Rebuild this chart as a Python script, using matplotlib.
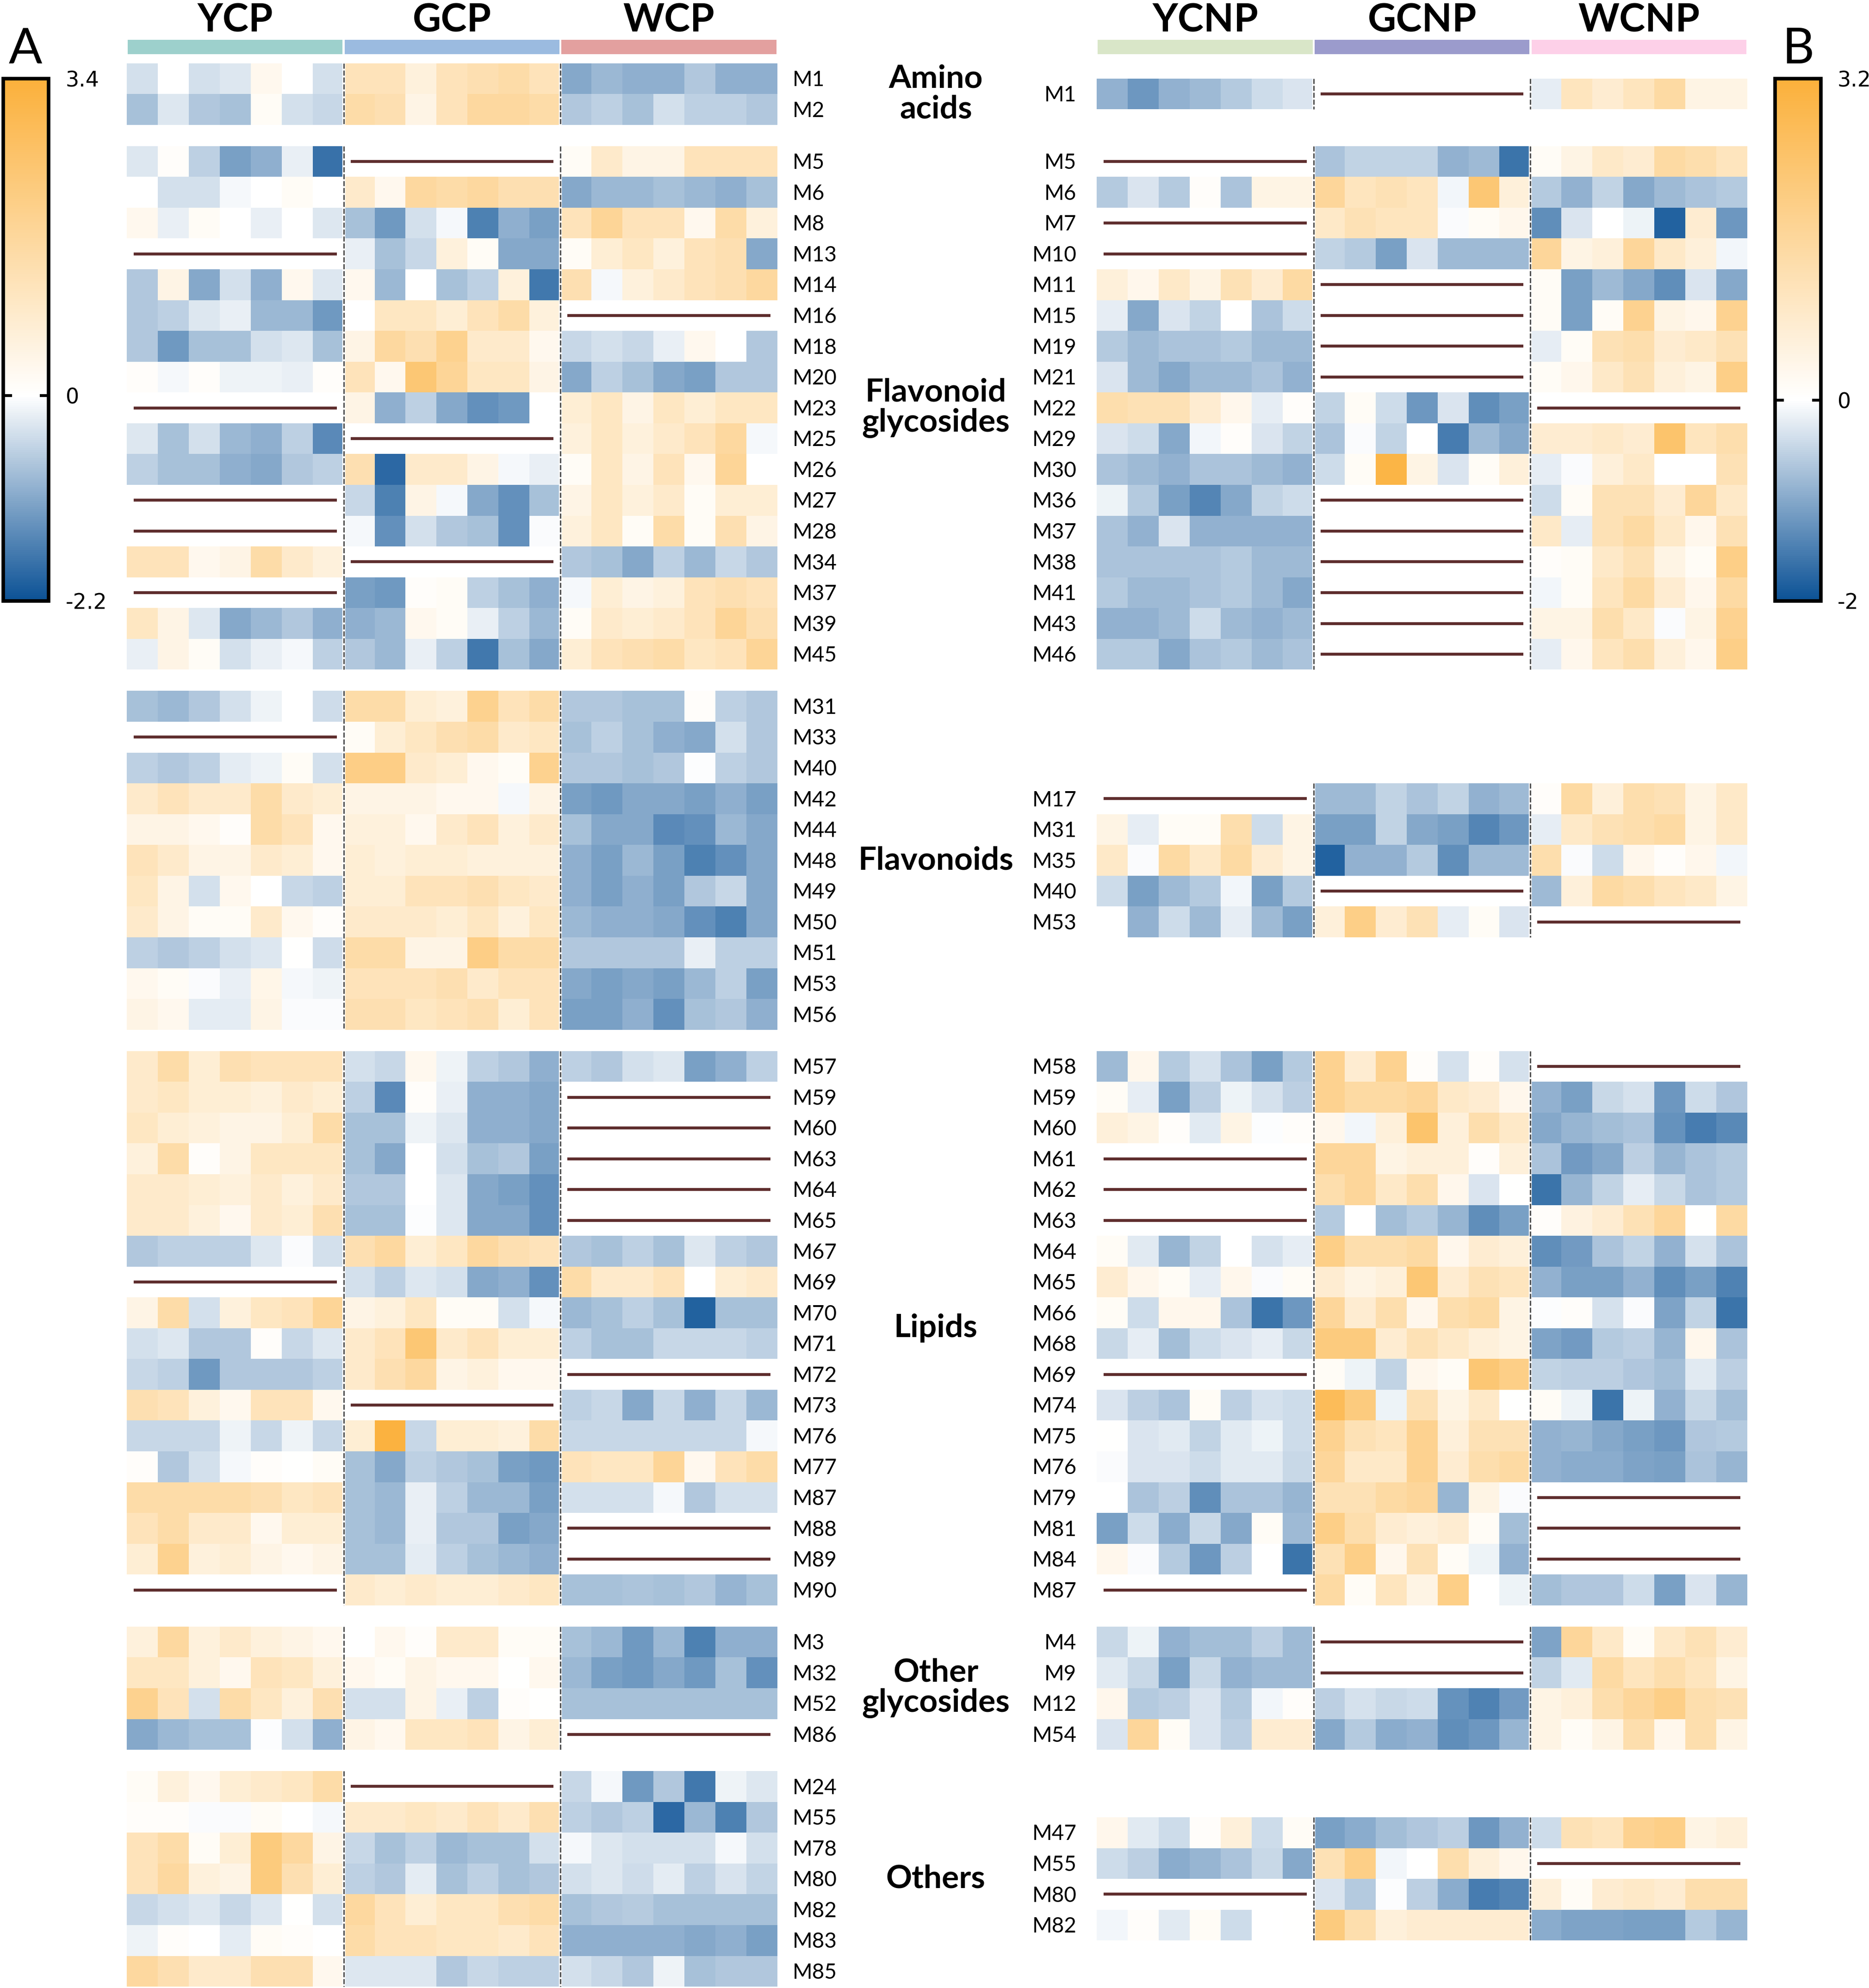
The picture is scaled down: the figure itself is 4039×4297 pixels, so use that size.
import numpy as np
import matplotlib
matplotlib.use("Agg")
import matplotlib.pyplot as plt
from matplotlib.colors import LinearSegmentedColormap, Normalize
from matplotlib.cm import ScalarMappable
from matplotlib.patches import Rectangle

plt.rcParams['font.family'] = ['Lato', 'DejaVu Sans']

# ---------------------------------------------------------------- data
groups_A = ["YCP", "GCP", "WCP"]
groups_B = ["YCNP", "GCNP", "WCNP"]
group_colors_A = ["#9dd0cc", "#9bbbe0", "#e3a09f"]
group_colors_B = ["#d9e6c8", "#9b9bcc", "#fdd0e8"]
categories = ["Amino\nacids", "Flavonoid\nglycosides", "Flavonoids", "Lipids",
              "Other\nglycosides", "Others"]
range_A = (-2.2, 3.4)
range_B = (-2.0, 3.2)

# ---- Panel A
A_amino_labels = ["M1", "M2"]
A_amino_YCP = [[-0.4, 0.0, -0.4, -0.3, 0.3, 0.0, -0.4],
               [-0.8, -0.3, -0.7, -0.8, 0.15, -0.4, -0.5]]
A_amino_GCP = [[1.2, 1.2, 0.6, 1.2, 1.35, 1.5, 1.2],
               [1.5, 1.35, 0.45, 1.2, 1.65, 1.65, 1.5]]
A_amino_WCP = [[-1.1, -0.9, -1.0, -1.0, -0.7, -1.0, -1.0],
               [-0.7, -0.6, -0.8, -0.4, -0.6, -0.6, -0.7]]

A_fg_labels = ["M5", "M6", "M8", "M13", "M14", "M16", "M18", "M20", "M23", "M25",
               "M26", "M27", "M28", "M34", "M37", "M39", "M45"]
A_fg_YCP = [
    [-0.3, 0.08, -0.6, -1.2, -1.0, -0.2, -1.8],
    [0.0, -0.4, -0.4, -0.1, 0.0, 0.15, 0.0],
    [0.3, -0.2, 0.15, 0.0, -0.2, 0.0, -0.3],
    None,
    [-0.7, 0.45, -1.1, -0.4, -1.0, 0.3, -0.3],
    [-0.7, -0.6, -0.3, -0.2, -0.9, -0.9, -1.3],
    [-0.7, -1.3, -0.8, -0.8, -0.4, -0.3, -0.8],
    [0.08, -0.1, 0.08, -0.15, -0.15, -0.2, 0.08],
    None,
    [-0.3, -0.8, -0.4, -0.9, -1.0, -0.6, -1.5],
    [-0.6, -0.8, -0.8, -1.0, -1.1, -0.7, -0.6],
    None,
    None,
    [1.2, 1.2, 0.3, 0.45, 1.5, 0.9, 0.6],
    None,
    [1.05, 0.45, -0.3, -1.1, -0.9, -0.7, -1.0],
    [-0.2, 0.45, 0.15, -0.4, -0.2, -0.1, -0.6],
]
A_fg_GCP = [
    None,
    [0.9, 0.3, 1.65, 1.5, 1.65, 1.35, 1.35],
    [-0.8, -1.3, -0.4, -0.1, -1.6, -1.0, -1.2],
    [-0.2, -0.8, -0.5, 0.6, 0.15, -1.1, -1.1],
    [0.3, -0.9, 0.0, -0.8, -0.6, 0.6, -1.7],
    [0.0, 1.05, 1.05, 0.75, 1.2, 1.5, 0.6],
    [0.45, 1.65, 1.35, 1.95, 0.9, 0.9, 0.3],
    [1.2, 0.3, 2.4, 1.8, 1.05, 1.05, 0.45],
    [0.45, -1.0, -0.6, -1.1, -1.4, -1.3, 0.0],
    None,
    [1.35, -1.9, 0.9, 0.9, 0.45, -0.1, -0.2],
    [-0.5, -1.6, 0.45, -0.1, -1.1, -1.4, -0.8],
    [-0.1, -1.4, -0.4, -0.7, -0.8, -1.4, -0.05],
    None,
    [-1.2, -1.3, 0.08, 0.15, -0.6, -0.8, -1.0],
    [-1.0, -0.9, 0.3, 0.15, -0.2, -0.6, -0.9],
    [-0.7, -0.9, -0.2, -0.6, -1.7, -0.8, -1.1],
]
A_fg_WCP = [
    [0.15, 0.9, 0.45, 0.45, 1.2, 1.2, 1.2],
    [-1.1, -0.9, -0.9, -0.8, -0.9, -1.0, -0.8],
    [1.2, 1.8, 1.2, 1.2, 0.3, 1.5, 0.6],
    [0.15, 0.75, 1.05, 0.6, 1.2, 1.35, -1.1],
    [1.35, -0.1, 0.6, 0.9, 1.2, 1.35, 1.65],
    None,
    [-0.5, -0.4, -0.5, -0.2, 0.3, 0.0, -0.7],
    [-1.1, -0.6, -0.8, -1.1, -1.2, -0.7, -0.7],
    [0.75, 1.05, 0.45, 1.05, 0.75, 1.05, 1.05],
    [0.6, 1.05, 0.6, 0.9, 1.2, 1.65, -0.1],
    [0.15, 1.05, 0.45, 1.2, 0.3, 1.8, 0.0],
    [0.45, 1.05, 0.6, 0.9, 0.15, 0.75, 0.75],
    [0.6, 1.05, 0.15, 1.5, 0.15, 1.35, 0.45],
    [-0.7, -0.8, -1.1, -0.6, -0.9, -0.5, -0.7],
    [-0.1, 0.75, 0.45, 0.6, 1.2, 1.35, 1.2],
    [0.15, 0.9, 0.75, 0.9, 1.2, 1.8, 1.35],
    [0.75, 1.2, 1.35, 1.5, 1.05, 1.2, 1.8],
]

A_fl_labels = ["M31", "M33", "M40", "M42", "M44", "M48", "M49", "M50", "M51", "M53", "M56"]
A_fl_YCP = [
    [-0.8, -0.9, -0.7, -0.4, -0.15, 0.0, -0.45],
    None,
    [-0.6, -0.7, -0.6, -0.25, -0.15, 0.15, -0.4],
    [0.9, 1.2, 0.9, 0.9, 1.5, 0.9, 0.75],
    [0.45, 0.45, 0.3, 0.08, 1.5, 1.2, 0.3],
    [1.2, 0.9, 0.45, 0.45, 0.9, 0.75, 0.3],
    [1.05, 0.45, -0.4, 0.3, 0.0, -0.5, -0.6],
    [0.9, 0.45, 0.15, 0.15, 0.9, 0.3, 0.08],
    [-0.6, -0.7, -0.6, -0.4, -0.3, 0.03, -0.45],
    [0.3, 0.15, -0.05, -0.2, 0.4, -0.08, -0.15],
    [0.45, 0.3, -0.25, -0.25, 0.45, -0.05, -0.05],
]
A_fl_GCP = [
    [1.5, 1.5, 0.75, 0.6, 1.95, 1.2, 1.5],
    [0.15, 0.75, 1.05, 1.35, 1.5, 0.9, 1.05],
    [2.1, 2.1, 0.9, 0.75, 0.3, 0.15, 1.95],
    [0.45, 0.45, 0.45, 0.3, 0.3, -0.08, 0.45],
    [0.6, 0.6, 0.3, 0.9, 1.2, 0.6, 0.9],
    [0.75, 0.6, 0.75, 0.75, 0.6, 0.6, 0.6],
    [0.75, 0.75, 1.2, 1.2, 1.35, 1.05, 0.9],
    [0.9, 0.9, 0.9, 0.75, 1.05, 0.6, 1.05],
    [1.5, 1.5, 0.45, 0.45, 2.1, 1.5, 1.5],
    [1.2, 1.2, 1.2, 1.35, 0.9, 1.2, 1.2],
    [1.35, 1.35, 1.05, 1.2, 1.35, 0.75, 1.2],
]
A_fl_WCP = [
    [-0.7, -0.7, -0.8, -0.8, 0.08, -0.6, -0.7],
    [-0.8, -0.6, -0.8, -1.0, -1.1, -0.4, -0.7],
    [-0.7, -0.7, -0.8, -0.7, -0.02, -0.6, -0.7],
    [-1.2, -1.3, -1.1, -1.1, -1.2, -1.0, -1.2],
    [-0.8, -1.1, -1.1, -1.5, -1.4, -0.9, -1.1],
    [-1.0, -1.2, -0.9, -1.2, -1.6, -1.4, -1.1],
    [-1.0, -1.2, -1.0, -1.2, -0.7, -0.5, -1.1],
    [-0.9, -1.0, -1.0, -1.1, -1.4, -1.6, -1.1],
    [-0.7, -0.7, -0.7, -0.7, -0.2, -0.6, -0.6],
    [-1.1, -1.2, -1.1, -1.2, -0.9, -0.6, -1.2],
    [-1.2, -1.2, -1.0, -1.4, -0.8, -0.7, -1.0],
]

A_li_labels = ["M57", "M59", "M60", "M63", "M64", "M65", "M67", "M69", "M70", "M71",
               "M72", "M73", "M76", "M77", "M87", "M88", "M89", "M90"]
A_li_YCP = [
    [0.9, 1.5, 0.75, 1.35, 1.2, 1.2, 1.2],
    [0.9, 1.05, 0.75, 0.75, 0.6, 0.9, 0.75],
    [1.05, 0.75, 0.6, 0.45, 0.45, 0.75, 1.5],
    [0.6, 1.5, 0.08, 0.45, 1.05, 1.05, 1.05],
    [0.9, 0.9, 0.75, 0.6, 0.9, 0.6, 0.9],
    [0.9, 0.9, 0.6, 0.3, 0.9, 0.75, 1.35],
    [-0.7, -0.6, -0.6, -0.6, -0.3, -0.05, -0.4],
    None,
    [0.45, 1.5, -0.4, 0.6, 1.05, 1.2, 1.8],
    [-0.4, -0.3, -0.7, -0.7, 0.08, -0.5, -0.3],
    [-0.5, -0.6, -1.3, -0.7, -0.7, -0.7, -0.6],
    [1.35, 1.2, 0.6, 0.3, 1.2, 1.2, 0.3],
    [-0.5, -0.5, -0.5, -0.15, -0.5, -0.15, -0.5],
    [0.08, -0.7, -0.4, -0.1, 0.08, 0.03, 0.15],
    [1.5, 1.5, 1.5, 1.5, 1.35, 1.05, 1.2],
    [1.2, 1.5, 0.9, 0.9, 0.3, 0.75, 0.75],
    [0.75, 1.95, 0.6, 0.75, 0.45, 0.3, 0.45],
    None,
]
A_li_GCP = [
    [-0.4, -0.5, 0.3, -0.15, -0.6, -0.7, -1.0],
    [-0.6, -1.5, 0.08, -0.2, -1.0, -1.0, -1.1],
    [-0.8, -0.8, -0.15, -0.3, -1.0, -1.0, -1.1],
    [-0.8, -1.1, 0.0, -0.4, -0.8, -0.7, -1.2],
    [-0.7, -0.7, 0.0, -0.3, -1.1, -1.2, -1.4],
    [-0.8, -0.8, -0.02, -0.3, -1.1, -1.1, -1.4],
    [1.35, 1.65, 0.75, 1.05, 1.65, 1.35, 1.2],
    [-0.4, -0.6, -0.3, -0.4, -1.1, -1.0, -1.4],
    [0.45, 0.6, 1.05, 0.15, 0.15, -0.4, -0.1],
    [0.9, 1.2, 2.4, 0.9, 1.2, 0.75, 0.75],
    [0.9, 1.35, 1.65, 0.45, 0.6, 0.3, 0.3],
    None,
    [0.75, 3.3, -0.5, 0.75, 0.75, 0.6, 1.5],
    [-0.8, -1.1, -0.6, -0.7, -0.8, -1.2, -1.3],
    [-0.8, -0.9, -0.2, -0.6, -0.9, -0.9, -1.2],
    [-0.8, -0.9, -0.2, -0.7, -0.7, -1.2, -1.1],
    [-0.8, -0.8, -0.25, -0.6, -0.8, -0.9, -1.0],
    [0.9, 0.75, 0.9, 0.75, 0.75, 0.9, 1.05],
]
A_li_WCP = [
    [-0.6, -0.7, -0.4, -0.3, -1.2, -1.0, -0.6],
    None,
    None,
    None,
    None,
    None,
    [-0.7, -0.8, -0.6, -0.8, -0.3, -0.6, -0.7],
    [1.5, 0.9, 0.9, 1.2, 0.0, 0.75, 0.9],
    [-0.9, -0.8, -0.6, -0.8, -2.0, -0.8, -0.8],
    [-0.6, -0.8, -0.8, -0.5, -0.5, -0.5, -0.6],
    None,
    [-0.6, -0.5, -1.1, -0.5, -1.0, -0.5, -0.9],
    [-0.5, -0.5, -0.5, -0.5, -0.5, -0.5, -0.1],
    [1.2, 1.05, 1.05, 1.8, 0.3, 1.2, 1.5],
    [-0.4, -0.4, -0.4, -0.1, -0.7, -0.4, -0.4],
    None,
    None,
    [-0.8, -0.8, -0.75, -0.8, -0.7, -0.95, -0.8],
]

A_og_labels = ["M3", "M32", "M52", "M86"]
A_og_YCP = [
    [0.6, 1.65, 0.6, 0.9, 0.6, 0.45, 0.3],
    [1.05, 1.05, 0.6, 0.3, 1.2, 1.05, 0.6],
    [1.95, 1.2, -0.4, 1.5, 1.05, 0.6, 1.35],
    [-1.1, -0.9, -0.8, -0.8, -0.02, -0.4, -1.0],
]
A_og_GCP = [
    [0.0, 0.3, 0.08, 0.9, 0.9, 0.15, 0.15],
    [0.3, 0.15, 0.45, 0.3, 0.3, 0.03, 0.3],
    [-0.4, -0.4, 0.45, -0.2, -0.6, 0.08, 0.03],
    [0.45, 0.3, 1.05, 1.05, 1.2, 0.45, 0.75],
]
A_og_WCP = [
    [-0.8, -0.9, -1.3, -0.9, -1.6, -1.0, -1.0],
    [-0.9, -1.2, -1.3, -1.1, -1.3, -0.8, -1.4],
    [-0.8, -0.8, -0.8, -0.8, -0.8, -0.8, -0.8],
    None,
]

A_ot_labels = ["M24", "M55", "M78", "M80", "M82", "M83", "M85"]
A_ot_YCP = [
    [0.15, 0.6, 0.3, 0.75, 0.9, 1.05, 1.5],
    [0.08, 0.08, -0.05, -0.05, 0.15, 0.0, -0.1],
    [1.2, 1.5, 0.15, 0.75, 2.25, 1.65, 0.45],
    [1.2, 1.65, 0.6, 0.45, 2.25, 1.35, 0.75],
    [-0.5, -0.4, -0.3, -0.5, -0.3, 0.03, -0.4],
    [-0.15, 0.08, 0.0, -0.25, 0.15, 0.08, 0.0],
    [1.65, 1.35, 0.9, 0.9, 1.35, 1.35, 0.3],
]
A_ot_GCP = [
    None,
    [0.9, 0.9, 1.05, 0.9, 1.2, 0.9, 1.35],
    [-0.5, -0.8, -0.6, -0.9, -0.8, -0.8, -0.4],
    [-0.6, -0.7, -0.25, -0.8, -0.6, -0.8, -0.7],
    [1.65, 1.2, 0.75, 1.05, 1.05, 1.35, 1.5],
    [1.5, 1.2, 1.2, 1.05, 1.05, 0.9, 1.2],
    [-0.3, -0.3, -0.3, -0.7, -0.5, -0.6, -0.6],
]
A_ot_WCP = [
    [-0.5, -0.1, -1.3, -0.7, -1.7, -0.15, -0.3],
    [-0.6, -0.7, -0.6, -1.9, -0.9, -1.6, -0.7],
    [-0.08, -0.3, -0.4, -0.4, -0.4, -0.08, -0.4],
    [-0.4, -0.3, -0.45, -0.25, -0.6, -0.35, -0.55],
    [-0.8, -0.7, -0.65, -0.8, -0.8, -0.8, -0.8],
    [-1.0, -1.0, -1.0, -1.0, -1.1, -1.0, -1.2],
    [-0.4, -0.5, -0.7, -0.15, -0.8, -0.7, -0.7],
]

# ---- Panel B
B_amino_labels = ["M1"]
B_amino_YCNP = [[-0.9, -1.2, -0.9, -0.8, -0.6, -0.4, -0.3]]
B_amino_GCNP = [None]
B_amino_WCNP = [[-0.2, 1.05, 0.75, 1.05, 1.5, 0.45, 0.45]]

B_fg_labels = ["M5", "M6", "M7", "M10", "M11", "M15", "M19", "M21", "M22", "M29",
               "M30", "M36", "M37", "M38", "M41", "M43", "M46"]
B_fg_YCNP = [
    None,
    [-0.6, -0.3, -0.6, 0.08, -0.7, 0.45, 0.45],
    None,
    None,
    [0.6, 0.3, 0.9, 0.45, 1.2, 0.75, 1.5],
    [-0.2, -1.0, -0.3, -0.5, 0.0, -0.7, -0.4],
    [-0.6, -0.8, -0.7, -0.7, -0.6, -0.8, -0.8],
    [-0.3, -0.8, -1.0, -0.8, -0.8, -0.7, -0.9],
    [1.35, 1.2, 1.2, 0.75, 0.3, -0.2, 0.08],
    [-0.3, -0.4, -1.0, -0.1, 0.08, -0.3, -0.5],
    [-0.7, -0.8, -0.9, -0.7, -0.7, -0.8, -0.9],
    [-0.15, -0.6, -1.1, -1.4, -1.0, -0.5, -0.4],
    [-0.7, -0.9, -0.3, -0.9, -0.9, -0.9, -0.9],
    [-0.7, -0.7, -0.7, -0.7, -0.6, -0.8, -0.8],
    [-0.6, -0.8, -0.8, -0.7, -0.6, -0.8, -1.0],
    [-0.9, -0.9, -0.8, -0.4, -0.8, -0.9, -0.8],
    [-0.6, -0.6, -1.0, -0.7, -0.6, -0.8, -0.7],
]
B_fg_GCNP = [
    [-0.7, -0.5, -0.5, -0.5, -0.9, -0.8, -1.6],
    [1.65, 1.05, 1.2, 1.05, -0.1, 2.25, 0.6],
    [0.9, 1.2, 1.05, 1.05, -0.05, 0.15, 0.3],
    [-0.5, -0.6, -1.1, -0.3, -0.8, -0.8, -0.8],
    None,
    None,
    None,
    None,
    [-0.5, 0.15, -0.4, -1.2, -0.3, -1.3, -1.1],
    [-0.7, -0.05, -0.5, 0.0, -1.5, -0.8, -1.0],
    [-0.4, 0.15, 3.0, 0.45, -0.3, 0.15, 0.6],
    None,
    None,
    None,
    None,
    None,
    None,
]
B_fg_WCNP = [
    [0.15, 0.45, 0.9, 0.75, 1.5, 1.35, 1.05],
    [-0.6, -0.9, -0.5, -1.0, -0.8, -0.7, -0.6],
    [-1.3, -0.3, 0.0, -0.15, -1.8, 0.75, -1.2],
    [1.65, 0.45, 0.6, 1.65, 0.9, 0.6, -0.1],
    [0.15, -1.1, -0.8, -1.0, -1.3, -0.3, -1.0],
    [0.15, -1.1, 0.15, 1.8, 0.45, 0.3, 1.8],
    [-0.2, 0.15, 1.2, 1.35, 0.75, 0.9, 1.2],
    [0.15, 0.3, 0.9, 1.2, 0.6, 0.45, 1.95],
    None,
    [0.75, 0.75, 0.9, 0.75, 2.4, 1.05, 1.35],
    [-0.2, -0.05, 0.6, 0.9, 0.0, 0.0, 1.2],
    [-0.4, 0.15, 1.2, 1.2, 0.75, 1.65, 0.9],
    [0.9, -0.2, 1.2, 1.5, 0.9, 0.3, 1.2],
    [0.08, 0.15, 0.9, 1.2, 0.45, 0.15, 1.95],
    [-0.1, 0.15, 1.05, 1.5, 0.75, 0.3, 1.5],
    [0.45, 0.45, 1.35, 0.9, -0.05, 0.45, 1.8],
    [-0.2, 0.3, 1.05, 1.35, 0.6, 0.3, 1.95],
]

B_fl_labels = ["M17", "M31", "M35", "M40", "M53"]
B_fl_YCNP = [
    None,
    [0.45, -0.2, 0.15, 0.15, 1.35, -0.4, 0.45],
    [0.9, -0.05, 1.5, 0.9, 1.5, 0.75, 0.45],
    [-0.4, -1.1, -0.8, -0.6, -0.1, -1.1, -0.6],
    [0.0, -0.9, -0.4, -0.8, -0.2, -0.8, -1.1],
]
B_fl_GCNP = [
    [-0.8, -0.8, -0.5, -0.7, -0.5, -0.9, -0.8],
    [-1.1, -1.1, -0.5, -1.0, -1.1, -1.4, -1.2],
    [-1.8, -0.9, -0.9, -0.6, -1.3, -0.8, -0.8],
    None,
    [0.6, 1.95, 0.75, 1.2, -0.2, 0.15, -0.3],
]
B_fl_WCNP = [
    [0.08, 1.5, 0.6, 1.35, 1.2, 0.45, 0.9],
    [-0.2, 0.9, 1.2, 1.35, 1.5, 0.45, 0.9],
    [1.35, -0.05, -0.4, 0.3, 0.08, 0.3, -0.1],
    [-0.8, 0.6, 1.5, 1.35, 1.05, 0.9, 0.45],
    None,
]

B_li_labels = ["M58", "M59", "M60", "M61", "M62", "M63", "M64", "M65", "M66", "M68",
               "M69", "M74", "M75", "M76", "M79", "M81", "M84", "M87"]
B_li_YCNP = [
    [-0.8, 0.3, -0.6, -0.35, -0.7, -1.1, -0.6],
    [0.15, -0.2, -1.1, -0.55, -0.15, -0.35, -0.55],
    [0.6, 0.45, 0.08, -0.25, 0.45, -0.02, 0.08],
    None,
    None,
    None,
    [0.15, -0.25, -0.85, -0.5, 0.0, -0.35, -0.2],
    [0.75, 0.3, 0.15, -0.2, 0.3, -0.05, 0.15],
    [0.15, -0.4, 0.3, 0.3, -0.7, -1.6, -1.2],
    [-0.45, -0.2, -0.75, -0.4, -0.3, -0.2, -0.45],
    None,
    [-0.3, -0.55, -0.7, 0.15, -0.55, -0.35, -0.4],
    [0.03, -0.3, -0.25, -0.5, -0.25, -0.15, -0.4],
    [-0.05, -0.3, -0.3, -0.4, -0.25, -0.25, -0.45],
    [0.0, -0.7, -0.55, -1.3, -0.7, -0.7, -0.85],
    [-1.1, -0.4, -0.95, -0.45, -1.0, 0.15, -0.8],
    [0.3, -0.05, -0.6, -1.2, -0.55, 0.0, -1.6],
    None,
]
B_li_GCNP = [
    [1.8, 0.75, 1.8, 0.08, -0.35, 0.08, -0.35],
    [1.8, 1.5, 1.5, 1.65, 0.9, 0.75, 0.3],
    [0.3, -0.1, 0.6, 2.4, 0.6, 1.35, 0.9],
    [1.65, 1.65, 0.45, 0.6, 0.6, 0.08, 0.6],
    [1.35, 1.65, 0.9, 1.35, 0.3, -0.3, 0.03],
    [-0.6, 0.0, -0.75, -0.6, -0.85, -1.3, -1.1],
    [1.95, 1.35, 1.35, 1.5, 0.3, 0.75, 0.6],
    [0.75, 0.45, 0.6, 2.25, 0.75, 1.2, 1.05],
    [1.65, 0.75, 1.35, 0.3, 1.35, 1.5, 0.45],
    [2.1, 2.1, 0.75, 1.2, 0.9, 0.6, 0.45],
    [0.15, -0.15, -0.5, 0.3, 0.15, 2.25, 1.95],
    [2.7, 2.1, -0.15, 1.2, 0.45, 0.9, 0.03],
    [1.8, 1.2, 1.05, 1.8, 0.6, 1.2, 1.2],
    [1.65, 0.9, 0.9, 1.8, 0.75, 1.35, 1.5],
    [1.2, 1.2, 1.5, 1.65, -0.85, 0.45, -0.05],
    [1.95, 1.35, 0.75, 0.6, 0.75, 0.15, -0.75],
    [1.2, 1.95, 0.3, 1.2, 0.15, -0.15, -0.9],
    [1.5, 0.15, 1.05, 0.45, 1.95, 0.0, -0.15],
]
B_li_WCNP = [
    None,
    [-0.9, -1.1, -0.45, -0.35, -1.2, -0.4, -0.65],
    [-1.0, -0.85, -0.75, -0.7, -1.25, -1.5, -1.35],
    [-0.7, -1.15, -1.0, -0.55, -0.85, -0.7, -0.6],
    [-1.6, -0.85, -0.5, -0.2, -0.45, -0.7, -0.6],
    [0.08, 0.5, 0.75, 1.2, 1.65, 0.03, 1.5],
    [-1.3, -1.15, -0.7, -0.5, -0.9, -0.35, -0.7],
    [-0.9, -1.1, -1.1, -0.9, -1.3, -1.1, -1.45],
    [-0.02, 0.08, -0.35, -0.05, -1.05, -0.5, -1.6],
    [-1.05, -1.15, -0.6, -0.55, -0.85, 0.3, -0.7],
    [-0.5, -0.55, -0.55, -0.65, -0.75, -0.25, -0.55],
    [0.15, -0.15, -1.6, -0.15, -0.9, -0.45, -0.75],
    [-0.9, -0.85, -1.0, -1.1, -1.2, -0.65, -0.6],
    [-0.9, -0.95, -0.95, -1.05, -1.1, -0.7, -0.85],
    None,
    None,
    None,
    [-0.75, -0.65, -0.65, -0.4, -1.1, -0.3, -0.85],
]

B_og_labels = ["M4", "M9", "M12", "M54"]
B_og_YCNP = [
    [-0.45, -0.15, -0.9, -0.75, -0.75, -0.55, -0.8],
    [-0.25, -0.45, -1.1, -0.45, -0.9, -0.8, -0.8],
    [0.3, -0.6, -0.55, -0.3, -0.6, -0.1, 0.08],
    [-0.3, 1.65, 0.15, -0.3, -0.55, 0.75, 0.75],
]
B_og_GCNP = [
    None,
    None,
    [-0.55, -0.35, -0.45, -0.4, -1.25, -1.45, -1.15],
    [-1.0, -0.6, -0.95, -0.9, -1.3, -1.2, -0.85],
]
B_og_WCNP = [
    [-1.05, 1.65, 0.9, 0.15, 0.9, 1.2, 0.75],
    [-0.5, -0.25, 1.5, 1.05, 1.35, 1.05, 0.45],
    [0.45, 0.6, 1.35, 1.65, 1.95, 1.35, 1.2],
    [0.45, 0.15, 0.45, 1.35, 0.3, 1.35, 0.45],
]

B_ot_labels = ["M47", "M55", "M80", "M82"]
B_ot_YCNP = [
    [0.3, -0.25, -0.4, 0.08, 0.6, -0.4, 0.15],
    [-0.4, -0.55, -0.95, -0.85, -0.7, -0.45, -1.0],
    None,
    [-0.1, 0.08, -0.25, 0.15, -0.4, 0.0, 0.03],
]
B_ot_GCNP = [
    [-1.1, -0.95, -0.75, -0.65, -0.55, -1.2, -0.9],
    [1.2, 1.95, -0.1, 0.0, 1.35, 0.6, 0.3],
    [-0.3, -0.6, -0.02, -0.55, -0.95, -1.5, -1.4],
    [2.1, 1.35, 0.6, 0.75, 0.75, 0.75, 0.75],
]
B_ot_WCNP = [
    [-0.4, 1.2, 1.05, 1.8, 1.95, 0.45, 0.6],
    None,
    [0.6, 0.15, 0.75, 0.9, 0.75, 1.35, 1.35],
    [-0.95, -1.05, -1.05, -1.1, -1.1, -0.6, -0.85],
]

blocks_A = [
    (A_amino_labels, [A_amino_YCP, A_amino_GCP, A_amino_WCP]),
    (A_fg_labels, [A_fg_YCP, A_fg_GCP, A_fg_WCP]),
    (A_fl_labels, [A_fl_YCP, A_fl_GCP, A_fl_WCP]),
    (A_li_labels, [A_li_YCP, A_li_GCP, A_li_WCP]),
    (A_og_labels, [A_og_YCP, A_og_GCP, A_og_WCP]),
    (A_ot_labels, [A_ot_YCP, A_ot_GCP, A_ot_WCP]),
]
blocks_B = [
    (B_amino_labels, [B_amino_YCNP, B_amino_GCNP, B_amino_WCNP]),
    (B_fg_labels, [B_fg_YCNP, B_fg_GCNP, B_fg_WCNP]),
    (B_fl_labels, [B_fl_YCNP, B_fl_GCNP, B_fl_WCNP]),
    (B_li_labels, [B_li_YCNP, B_li_GCNP, B_li_WCNP]),
    (B_og_labels, [B_og_YCNP, B_og_GCNP, B_og_WCNP]),
    (B_ot_labels, [B_ot_YCNP, B_ot_GCNP, B_ot_WCNP]),
]

# ---------------------------------------------------------------- layout
W, H = 1474.0, 1568.0           # layout units (1 unit = 2.74 px)
fig = plt.figure(figsize=(40.39, 42.97), dpi=100)
ax = fig.add_axes([0, 0, 1, 1])
ax.set_xlim(0, W)
ax.set_ylim(H, 0)
ax.axis("off")

RH = 24.29          # row height
GAP = 16.8          # gap between blocks
TOP = 49.85
PANEL_W = 513.0
CW = PANEL_W / 21.0
XA, XB = 100.0, 865.0
MISS_COLOR = "#5e2d2d"
DASH_COLOR = "#505050"
INSET = 5.5


def make_cmap(vmin, vmax):
    p0 = -vmin / (vmax - vmin)
    return LinearSegmentedColormap.from_list(
        "bwo", [(0.0, "#0c5296"), (p0, "#ffffff"), (1.0, "#fbb03b")])


cmapA, normA = make_cmap(*range_A), Normalize(*range_A)
cmapB, normB = make_cmap(*range_B), Normalize(*range_B)

# block tops on the left panel
tops = []
t = TOP
for labels, _ in blocks_A:
    tops.append(t)
    t += len(labels) * RH + GAP


def draw_panel(x0, blocks, cmap, norm, side):
    for k, (labels, groups) in enumerate(blocks):
        nA = len(blocks_A[k][0])
        n = len(labels)
        top = tops[k] + (nA - n) * RH / 2.0
        Y = top + np.arange(n + 1) * RH
        for gi, gdata in enumerate(groups):
            gx0 = x0 + gi * 7 * CW
            X = gx0 + np.arange(8) * CW
            arr = np.array([r if r is not None else [np.nan] * 7 for r in gdata], float)
            ax.pcolormesh(X, Y, np.ma.masked_invalid(arr), cmap=cmap, norm=norm,
                          shading="flat", antialiased=False, zorder=1)
            for i, r in enumerate(gdata):
                if r is None:
                    yc = top + (i + 0.5) * RH
                    ax.plot([gx0 + INSET, gx0 + 7 * CW - INSET], [yc, yc],
                            color=MISS_COLOR, lw=4.6, solid_capstyle="butt", zorder=2)
        for gi in (1, 2):
            xb = x0 + gi * 7 * CW
            ax.plot([xb, xb], [top, top + n * RH], color="white", lw=4.6,
                    solid_capstyle="butt", zorder=3)
            ax.plot([xb, xb], [top, top + n * RH], color=DASH_COLOR, lw=2.2,
                    linestyle=(0, (3.6, 1.3)), zorder=4)
        for i, lab in enumerate(labels):
            yc = top + (i + 0.5) * RH + 5.9
            if side == "right":
                ax.text(x0 + PANEL_W + 12, yc, lab, ha="left", va="baseline",
                        fontsize=33, color="black")
            else:
                ax.text(x0 - 16, yc, lab, ha="right", va="baseline",
                        fontsize=33, color="black")


draw_panel(XA, blocks_A, cmapA, normA, "right")
draw_panel(XB, blocks_B, cmapB, normB, "left")

# category labels
for k, (labels, _) in enumerate(blocks_A):
    yc = tops[k] + len(labels) * RH / 2.0
    ax.text(738, yc, categories[k], ha="center", va="center", fontsize=50,
            fontweight="bold", linespacing=1.05)

# group headers
for x0, names, cols in ((XA, groups_A, group_colors_A), (XB, groups_B, group_colors_B)):
    for gi, (nm, c) in enumerate(zip(names, cols)):
        gx0 = x0 + gi * 7 * CW
        ax.add_patch(Rectangle((gx0 + 0.8, 31.2), 7 * CW - 1.6, 11.5,
                               facecolor=c, edgecolor="none", zorder=1))
        ax.text(gx0 + 3.5 * CW, 25.0, nm, ha="center", va="baseline",
                fontsize=61, fontweight="bold")

# panel letters
ax.text(20, 50, "A", ha="center", va="baseline", fontsize=77)
ax.text(1418, 50, "B", ha="center", va="baseline", fontsize=77)


# colour bars
def add_cbar(xl, cmap, norm, rng):
    cax = fig.add_axes([xl / W, 1 - 474.0 / H, 36.0 / W, 412.0 / H])
    cb = fig.colorbar(ScalarMappable(norm=norm, cmap=cmap), cax=cax,
                      ticks=[rng[0], 0, rng[1]])
    cb.outline.set_linewidth(5.5)
    cb.ax.set_yticklabels([("%g" % rng[0]).replace("\u2212", "-"), "0", "%g" % rng[1]])
    cax.yaxis.set_ticks_position("both")
    cax.tick_params(axis="y", direction="in", length=14, width=4.5, labelsize=33,
                    labelleft=False, labelright=True, pad=26)
    for lab in cax.get_yticklabels():
        lab.set_fontfamily("DejaVu Sans")
    return cb


add_cbar(2.5, cmapA, normA, range_A)
add_cbar(1400.0, cmapB, normB, range_B)

fig.savefig("out.png", dpi=100)
